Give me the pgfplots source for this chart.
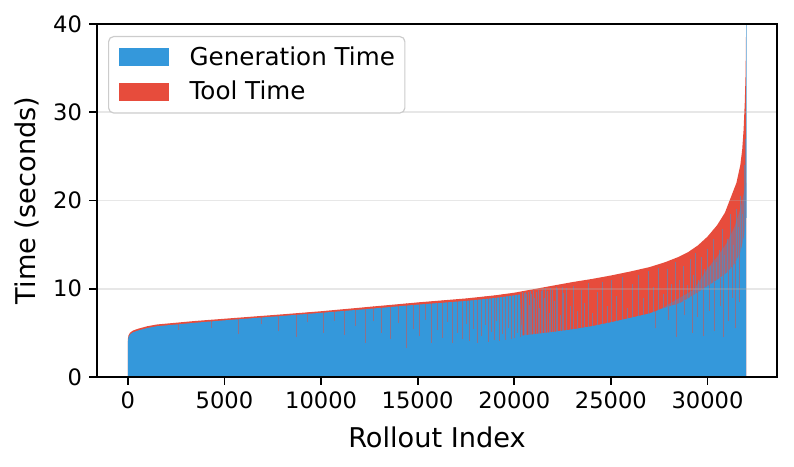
\documentclass[border=0pt]{standalone}
\usepackage{pgfplots}
\pgfplotsset{compat=1.18}
\usepackage{fontspec}
\setmainfont{DejaVu Sans}
\definecolor{tblue}{HTML}{3498DB}
\definecolor{tred}{HTML}{E74C3C}
\definecolor{haze}{RGB}{165,104,122}
\definecolor{gridc}{HTML}{B0B0B0}

% total time (top of red area)
\pgfplotstableread{
x y
0 4.3
30 4.7
100 5.0
250 5.25
500 5.45
1000 5.75
1500 5.95
2500 6.15
3500 6.35
5000 6.6
6500 6.85
8000 7.1
10000 7.45
12500 7.95
15000 8.45
17500 8.9
19000 9.25
20000 9.55
21000 9.95
22000 10.35
23000 10.75
24000 11.1
25000 11.5
26000 11.95
27000 12.45
27800 13.0
28500 13.6
29000 14.15
29500 14.9
30000 15.9
30500 17.2
30900 18.6
31200 20.3
31500 22.0
31700 24.0
31800 25.8
31870 28.0
31930 31.0
31970 34.0
31990 37.0
32000 40.0
}\totaltime

% generation time, solid part
\pgfplotstableread{
x y
0 4.0
30 4.5
100 4.8
250 5.05
500 5.25
1000 5.55
1500 5.75
2500 5.95
3500 6.15
5000 6.42
6500 6.67
8000 6.92
10000 7.27
12500 7.72
15000 8.2
17500 8.62
19000 8.95
20000 9.25
20300 9.35
20400 4.7
21000 4.85
22000 5.1
23000 5.4
24000 5.75
25000 6.2
26000 6.7
27000 7.2
27600 7.7
28600 8.4
29300 9.3
30000 10.3
30500 11.0
31000 11.8
31400 12.8
31700 14.1
31900 16.0
31980 17.5
32000 18.0
}\gentime

% mixed band above generation time near the end
\pgfplotstableread{
x y
27500 7.6
28500 8.9
29300 9.9
30000 12.3
30500 13.6
31000 15.2
31400 17.0
31700 19.0
31900 21.0
32000 22.0
}\hazeband

% rollouts with short generation time (low, length)
\pgfplotstableread{
x y e
2600 5.3 0.87
4300 5.6 0.88
5700 4.9 1.82
6900 6.0 0.92
7800 5.2 1.87
8700 4.5 2.72
9300 6.2 1.13
10100 5.0 2.47
10700 6.4 1.19
11200 4.8 2.89
11800 5.8 2.01
12300 3.9 4.01
12700 6.3 1.69
13100 5.0 3.07
13600 4.3 3.87
14000 6.1 2.15
14400 3.3 5.03
14800 5.4 3.01
15100 4.6 3.87
15400 6.5 2.02
15700 3.9 4.68
16000 5.3 3.33
16300 4.4 4.28
16550 6.2 2.53
16800 3.8 4.97
17050 5.0 3.82
17300 4.3 4.56
17500 6.0 2.9
17700 4.1 4.85
17900 5.4 3.59
18100 3.9 5.14
18300 4.7 4.39
18500 5.9 3.23
18650 4.0 5.17
18800 5.1 4.1
18950 4.2 5.04
19100 6.3 2.98
19250 4.1 5.23
19400 4.9 4.47
19550 4.2 5.22
19700 5.6 3.86
19850 4.3 5.21
20000 4.4 5.15
20150 5.0 4.61
20300 4.5 5.17
27300 5.5 1.95
28000 6.5 1.48
28400 4.5 3.76
28800 7.0 1.66
29200 5.0 4.17
29500 6.8 2.79
29800 4.6 5.4
30100 7.5 2.94
30350 5.2 5.59
30650 8.0 3.24
30850 4.5 7.06
31100 6.3 5.75
31300 9.0 3.55
31450 5.5 7.5
31650 8.5 5.4
}\redspikes

% rollouts with long generation time (base, length)
\pgfplotstableread{
x y e
20420 4.7 4.9
20500 4.7 4.8
20550 4.7 4.3
20600 4.72 4.95
20650 4.75 4.65
20720 4.78 4.9
20800 4.8 3.4
20850 4.8 4.95
20900 4.8 4.65
20980 4.82 5.0
21050 4.85 4.15
21150 4.85 4.75
21230 4.88 5.0
21300 4.9 2.9
21400 4.9 4.8
21480 4.92 5.05
21550 4.95 3.95
21620 4.97 5.1
21700 5.0 4.8
21800 5.0 2.2
21870 5.02 5.1
21950 5.05 4.85
22100 5.1 3.5
22180 5.12 5.1
22250 5.15 4.85
22400 5.2 1.8
22480 5.22 5.0
22550 5.25 4.25
22700 5.3 4.8
22900 5.35 2.65
23050 5.4 4.9
23250 5.5 2.0
23450 5.55 4.35
23650 5.6 2.8
23850 5.7 4.9
24050 5.8 1.5
24300 5.85 3.75
24550 5.95 4.85
24800 6.1 1.9
25050 6.2 4.8
25300 6.3 2.9
25600 6.45 4.85
25850 6.55 1.25
26100 6.7 3.8
26400 6.85 4.75
26700 7.0 2.0
26950 7.15 4.85
27200 7.3 2.9
27450 7.5 4.9
27700 7.75 1.65
27950 7.95 4.25
28150 8.1 2.4
28350 8.25 4.75
28550 8.4 2.6
28750 8.6 4.0
28950 8.85 1.55
29100 9.0 4.4
29250 9.2 2.3
29400 9.4 4.6
29550 9.6 1.4
29700 9.8 3.8
29850 10.05 2.15
30000 10.3 4.2
30150 10.5 2.1
30300 10.7 4.9
30450 10.9 2.1
30600 11.1 3.3
30750 11.35 5.45
30900 11.55 2.25
31050 11.9 3.7
31200 12.3 6.2
31350 12.6 2.4
31500 13.2 5.8
31600 13.6 3.4
31700 14.1 6.4
31800 14.8 3.7
31900 16.0 8.0
31960 17.0 10.0
32000 18.0 22.0
}\bluespikes

\begin{document}
\begin{tikzpicture}
\begin{axis}[
  scale only axis, width=340pt, height=176.5pt,
  xmin=-1600, xmax=33600, ymin=0, ymax=40,
  axis on top,
  axis line style={line width=0.9pt, black},
  tick pos=left,
  tick align=outside, major tick length=4pt,
  every tick/.style={line width=0.9pt, black},
  xtick={0,5000,10000,15000,20000,25000,30000},
  xticklabels={0,5000,10000,15000,20000,25000,30000},
  ytick={0,10,20,30,40},
  scaled x ticks=false,
  /pgf/number format/assume math mode=true,
  tick label style={font=\fontsize{11.3}{13}\selectfont},
  label style={font=\fontsize{13.6}{16}\selectfont},
  xlabel={Rollout Index}, ylabel={Time (seconds)},
  xlabel style={at={(axis description cs:0.5,-0.17)}, anchor=center},
  ylabel style={at={(axis description cs:-0.103,0.5)}, anchor=center},
  ymajorgrids, major grid style={gridc, opacity=0.3, line width=0.9pt},
  legend cell align=left,
  legend image code/.code={\fill[#1, sharp corners] (0pt,-4.5pt) rectangle (25pt,4.5pt);},
  legend style={at={(0.0162,0.966)}, anchor=north west, draw=black!20,
    fill=white, rounded corners=2.5pt, line width=0.6pt,
    font=\fontsize{12.3}{14}\selectfont, inner xsep=5pt, inner ysep=5pt,
    row sep=6.5pt, nodes={inner sep=0pt},
    /tikz/every odd column/.style={column sep=10.5pt}},
]
\addplot[fill=tred, draw=none, forget plot] table[x=x,y=y] {\totaltime} \closedcycle;
\addplot[fill=haze, draw=none, forget plot] table[x=x,y=y] {\hazeband} \closedcycle;
\addplot[fill=tblue, draw=none, forget plot] table[x=x,y=y] {\gentime} \closedcycle;
\addplot[tred, line width=0.4pt, opacity=0.5, forget plot, quiver={u=0, v=\thisrow{e}}] table[x=x,y=y] {\redspikes};
\addplot[tblue, line width=0.4pt, opacity=0.55, forget plot, quiver={u=0, v=\thisrow{e}}] table[x=x,y=y] {\bluespikes};
\addlegendimage{fill=tblue, draw=none}
\addlegendentry{Generation Time}
\addlegendimage{fill=tred, draw=none}
\addlegendentry{Tool Time}
\end{axis}
\pgfresetboundingbox
\path ([shift={(-48.5pt,-45pt)}]current axis.south west) rectangle ([shift={(8.5pt,12pt)}]current axis.north east);
\end{tikzpicture}
\end{document}
